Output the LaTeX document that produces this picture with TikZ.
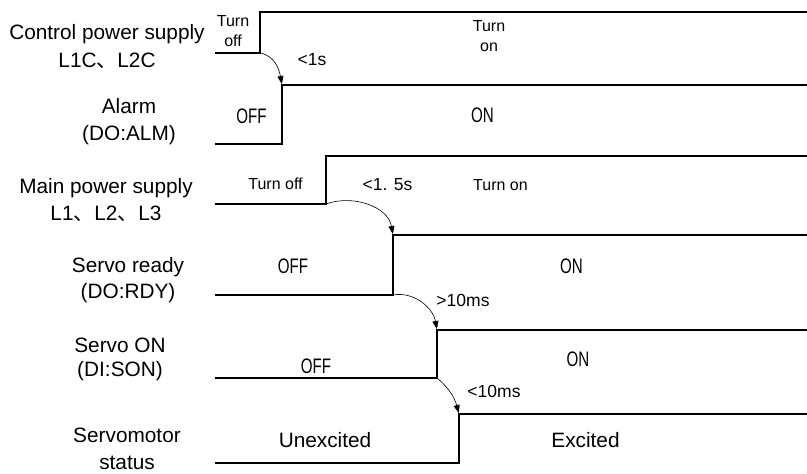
\documentclass[tikz,border=0pt]{standalone}
\usepackage{fontspec}
\setmainfont{Liberation Sans}
\newfontfamily\cjk{Noto Sans CJK SC}
\newfontfamily\narrow[FakeStretch=0.72]{Liberation Sans}
\usetikzlibrary{arrows.meta, positioning}
\newcommand{\dun}{{\cjk 、}}
\tikzset{
  wave/.style={line width=2pt, line join=miter},
  delay/.style={-{Triangle[length=8pt, width=6pt]}, line width=0.6pt, shorten >=1pt},
  signame/.style={
    inner sep=0pt, align=center, anchor=north,
    font=\fontsize{20.8}{27}\selectfont
  },
  level/.style={inner sep=0pt, anchor=base, font=\narrow\fontsize{21}{24}\selectfont},
  note/.style={inner sep=0pt, align=center, anchor=north, font=\fontsize{16}{20}\selectfont},
  gap/.style={inner sep=0pt, anchor=base, font=\fontsize{17.5}{20}\selectfont},
}
\begin{document}
\begin{tikzpicture}[x=1pt, y=-1pt]
    \useasboundingbox (0,0) rectangle (807,474);

    \foreach \sig/\t/\lo/\hi in {cps/260/53/12, alm/282/144/85, mps/326/204/156,
        rdy/393/295/235, son/437/378/330, mot/459/463/414} {
      \draw[wave] (215,\lo) -- (\t,\lo) -- (\t,\hi) -- (807,\hi);
      \coordinate (\sig-low) at (\t,\lo);
      \coordinate (\sig-high) at (\t,\hi);
    }

    \draw[delay] (cps-low) to[out=-10, in=100] (alm-high);
    \draw[delay] (mps-low) to[out=20, in=100] (rdy-high);
    \draw[delay] (rdy-low) to[out=10, in=100] (son-high);
    \draw[delay] (son-low) to[out=-40, in=105] (mot-high);

    \node[signame] (cps) at (107,24) {Control power supply\\[1pt]L1C\dun L2C};
    \node[signame] (alm) at (129,98) {Alarm\\(DO:ALM)};
    \node[signame] (mps) at (106,178) {Main power supply\\L1\dun L2\dun L3};
    \node[signame] (rdy) at (128,257) {Servo ready\\[-1pt](DO:RDY)};
    \node[signame] (son) at (120,338) {Servo ON\\[-3pt](DI:SON)};
    \node[signame] (mot) at (127,428) {Servomotor\\status};

    \node[note] (cps-off) at (233,15.5) {Turn\\off};
    \node[note] (cps-on) at (489,20.5) {Turn\\on};
    \node[gap] (cps-gap) at (312,65) {<1s};
    \node[level] (alm-off) at (251.5,123) {OFF};
    \node[level] (alm-on) at (482.5,122) {ON};

    \node[note, anchor=base] (mps-off) at (275.5,189) {Turn off};
    \node[gap] (mps-gap) at (387.5,190) {<1. 5s};
    \node[note, anchor=base] (mps-on) at (500.5,190) {Turn on};
    \node[level] (rdy-off) at (293,273) {OFF};
    \node[level] (rdy-on) at (571.5,273) {ON};
    \node[gap] (rdy-gap) at (463,306) {>10ms};

    \node[level] (son-off) at (316,373) {OFF};
    \node[level] (son-on) at (578,366) {ON};
    \node[gap] (son-gap) at (494,397) {<10ms};
    \node[signame, anchor=base] (mot-off) at (325,447) {Unexcited};
    \node[signame, anchor=base] (mot-on) at (585.5,447) {Excited};
\end{tikzpicture}
\end{document}
